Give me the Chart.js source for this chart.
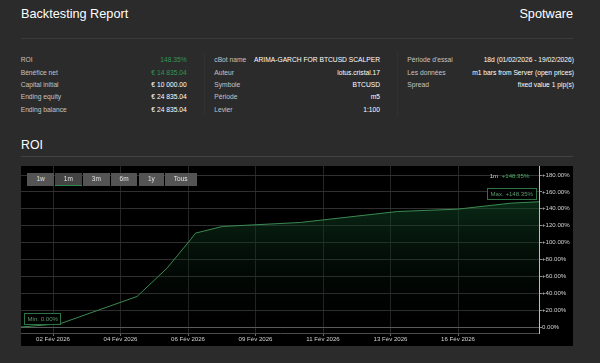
<!DOCTYPE html>
<html><head><meta charset="utf-8">
<script src="https://cdn.jsdelivr.net/npm/chart.js@4.4.1/dist/chart.umd.min.js"></script>
<style>
html,body{margin:0;padding:0;background:#2b2b2b;width:600px;height:363px;overflow:hidden;font-family:"Liberation Sans",Arial,sans-serif;}
.a{position:absolute;white-space:nowrap;line-height:1;}
.lbl{color:#c4c4c4;font-size:6.7px;}
.val{color:#ffffff;font-size:6.7px;text-align:right;}
.btn{position:absolute;top:173.3px;height:12.7px;background:#545454;color:#e2e2e2;font-size:6.5px;line-height:12.7px;text-align:center;box-sizing:border-box;}
.btn.sel{background:#434343;border-bottom:1px solid #2f8a50;}
#panel{position:absolute;left:21px;top:166px;width:552px;height:180px;background:#000;}
</style></head><body>
<div class="a" style="left:21px;top:7.5px;font-size:12.7px;color:#fff;">Backtesting Report</div>
<div class="a" style="right:27px;top:7.5px;font-size:12.7px;color:#fff;">Spotware</div>
<div class="a" style="left:21px;top:38px;width:552px;height:1px;background:#3a3a3a;"></div>
<div class="a" style="left:204px;top:52px;width:1px;height:64px;background:#313131;"></div>
<div class="a" style="left:397px;top:52px;width:1px;height:64px;background:#313131;"></div>
<div id="stats"></div>
<div class="a" style="left:21px;top:138.6px;font-size:12.3px;color:#fff;">ROI</div>
<div class="a" style="left:21px;top:156px;width:552px;height:1px;background:#434343;"></div>
<div id="panel"><canvas id="c" width="552" height="180"></canvas></div>
<div id="btns"></div>
<script>
// ---- data ----
const col1Labels = ['ROI','Bénéfice net','Capital initial','Ending equity','Ending balance'];
const col1Values = ['148.35%','€ 14 835.04','€ 10 000.00','€ 24 835.04','€ 24 835.04'];
const col2Labels = ['cBot name','Auteur','Symbole','Période','Levier'];
const col2Values = ['ARIMA-GARCH FOR BTCUSD SCALPER','lotus.cristal.17','BTCUSD','m5','1:100'];
const col3Labels = ["Période d'essai",'Les données','Spread'];
const col3Values = ['18d (01/02/2026 - 19/02/2026)','m1 bars from Server (open prices)','fixed value 1 pip(s)'];
const rangeButtons = ['1w','1m','3m','6m','1y','Tous'];
const selectedRange = '1m';

// ordinal (trading-session) position of each equity sample and its ROI in %
const ordinalPos = [0.05, 1.21, 3.49, 4.38, 5.07, 5.22, 6.02, 8.33, 11.21, 12.99, 14.57, 15.40];
const roi        = [0.00, 3.9, 36.2, 69.8, 103.3, 111.2, 119.1, 123.8, 136.8, 139.6, 146.7, 148.35];

const xTickPos    = [1, 3, 5, 7, 9, 11, 13];
const xTickLabels = ['02 Fév 2026','04 Fév 2026','06 Fév 2026','09 Fév 2026','11 Fév 2026','13 Fév 2026','16 Fév 2026'];
const yTicks      = [0, 20, 40, 60, 80, 100, 120, 140, 160, 180];

// ---- stats table ----
const stats = document.getElementById('stats');
function addCol(labels, values, lx, rx, greenRows){
  labels.forEach((l,i)=>{
    const top = 57.4 + i*12.3;
    const d1 = document.createElement('div'); d1.className='a lbl'; d1.style.left=lx+'px'; d1.style.top=top+'px'; d1.textContent=l; stats.appendChild(d1);
    const d2 = document.createElement('div'); d2.className='a val'; d2.style.right=(600-rx)+'px'; d2.style.top=top+'px'; d2.textContent=values[i];
    if (greenRows.includes(i)) d2.style.color='#359557';
    stats.appendChild(d2);
  });
}
addCol(col1Labels, col1Values, 20.7, 186.7, [0,1]);
addCol(col2Labels, col2Values, 214.3, 380, []);
addCol(col3Labels, col3Values, 407.3, 574, []);

// ---- range buttons ----
const btnLeft = [27.3, 55, 83, 110.7, 138.7, 164.7];
const btnW = [26.7, 26.7, 26.7, 26.7, 25.3, 32];
const btns = document.getElementById('btns');
rangeButtons.forEach((b,i)=>{
  const d=document.createElement('div'); d.className='btn'+(b===selectedRange?' sel':'');
  d.style.left=btnLeft[i]+'px'; d.style.width=btnW[i]+'px'; d.textContent=b; btns.appendChild(d);
});

// ---- chart ----
Chart.defaults.font.family = '"Liberation Sans", Arial, sans-serif';
const fmtPct = v => (v>0?'+':'') + v.toFixed(2) + '%';

const markerPlugin = {
  id:'markers',
  afterDatasetsDraw(chart){
    const {ctx, scales:{x,y}, chartArea} = chart;
    const iMin = roi.indexOf(Math.min(...roi));
    const iMax = roi.indexOf(Math.max(...roi));
    ctx.save();
    ctx.font = '6.1px "Liberation Sans"';
    const box = (text, px, py, right) => {
      const w = Math.round(ctx.measureText(text).width + 6), h = 11;
      const bx = Math.round(right ? px - 3 - w : px + 3);
      const by = Math.round(py - 3 - h);
      ctx.fillStyle='rgba(0,0,0,0.85)'; ctx.fillRect(bx,by,w,h);
      ctx.strokeStyle='#2c7543'; ctx.lineWidth=1; ctx.strokeRect(bx+0.5,by+0.5,w,h);
      ctx.fillStyle='#5a9a6c'; ctx.textBaseline='middle'; ctx.textAlign='left';
      ctx.fillText(text, bx+3.5, by+h/2+1);
    };
    box('Min. ' + fmtPct(roi[iMin]), x.getPixelForValue(ordinalPos[iMin]), y.getPixelForValue(roi[iMin]), false);
    box('Max. ' + fmtPct(roi[iMax]), x.getPixelForValue(ordinalPos[iMax]), y.getPixelForValue(roi[iMax]), true);
    // range label top-right
    const last = roi[roi.length-1];
    const rx = chartArea.right - 9.7, cy = chartArea.top + 10;
    ctx.textBaseline='middle'; ctx.textAlign='right';
    ctx.fillStyle='#4aae64'; const t = fmtPct(last); ctx.fillText(t, rx, cy);
    const tw = ctx.measureText(t).width;
    ctx.fillStyle='#cfcfcf'; ctx.fillText(selectedRange, rx - tw - 3.5, cy);
    ctx.restore();
  }
};

const ctx = document.getElementById('c').getContext('2d');
new Chart(ctx, {
  type:'line',
  data:{ datasets:[{
    data: ordinalPos.map((p,i)=>({x:p, y:roi[i]})),
    borderColor:'#3a8a52', borderWidth:1, pointRadius:0, tension:0,
    fill:'origin',
    backgroundColor: c => {
      const ca = c.chart.chartArea; if(!ca) return 'rgba(0,0,0,0)';
      const g = c.chart.ctx.createLinearGradient(0, ca.top, 0, ca.bottom);
      g.addColorStop(0,'rgba(22,98,52,0.68)');
      g.addColorStop(1,'rgba(0,0,0,0)');
      return g;
    }
  }]},
  options:{
    animation:false, responsive:false, maintainAspectRatio:false,
    layout:{padding:0},
    plugins:{legend:{display:false}, tooltip:{enabled:false}},
    scales:{
      x:{
        type:'linear', min: ordinalPos[0], max: ordinalPos[ordinalPos.length-1],
        afterBuildTicks: s => { s.ticks = xTickPos.map(v=>({value:v})); },
        afterFit: s => { s.height = 13; s.paddingLeft=0; s.paddingRight=0; s.paddingTop=0; s.paddingBottom=0; },
        ticks:{ autoSkip:false, maxRotation:0, padding:0, color:'#d0d0d0', font:{size:6.1},
          callback: v => xTickLabels[xTickPos.indexOf(v)] },
        grid:{ color:'#262626', tickLength:3, tickColor:'#6a6a6a' },
        border:{ color:'#4a4a4a' }
      },
      y:{
        type:'linear', position:'right', min:-7.1, max:190.7,
        afterBuildTicks: s => { s.ticks = yTicks.map(v=>({value:v})); },
        afterFit: s => { s.width = 34; s.paddingTop=0; s.paddingBottom=0; s.paddingLeft=0; s.paddingRight=0; },
        ticks:{ padding:0, color:'#d0d0d0', font:{size:6.1}, callback: v => fmtPct(v) },
        grid:{ color: c => (c.tick && c.tick.value===0) ? '#5a5a5a' : '#303030', tickLength:3, tickColor:'#8a8a8a' },
        border:{ color:'#bdbdbd' }
      }
    }
  },
  plugins:[markerPlugin]
});
</script>
</body></html>
